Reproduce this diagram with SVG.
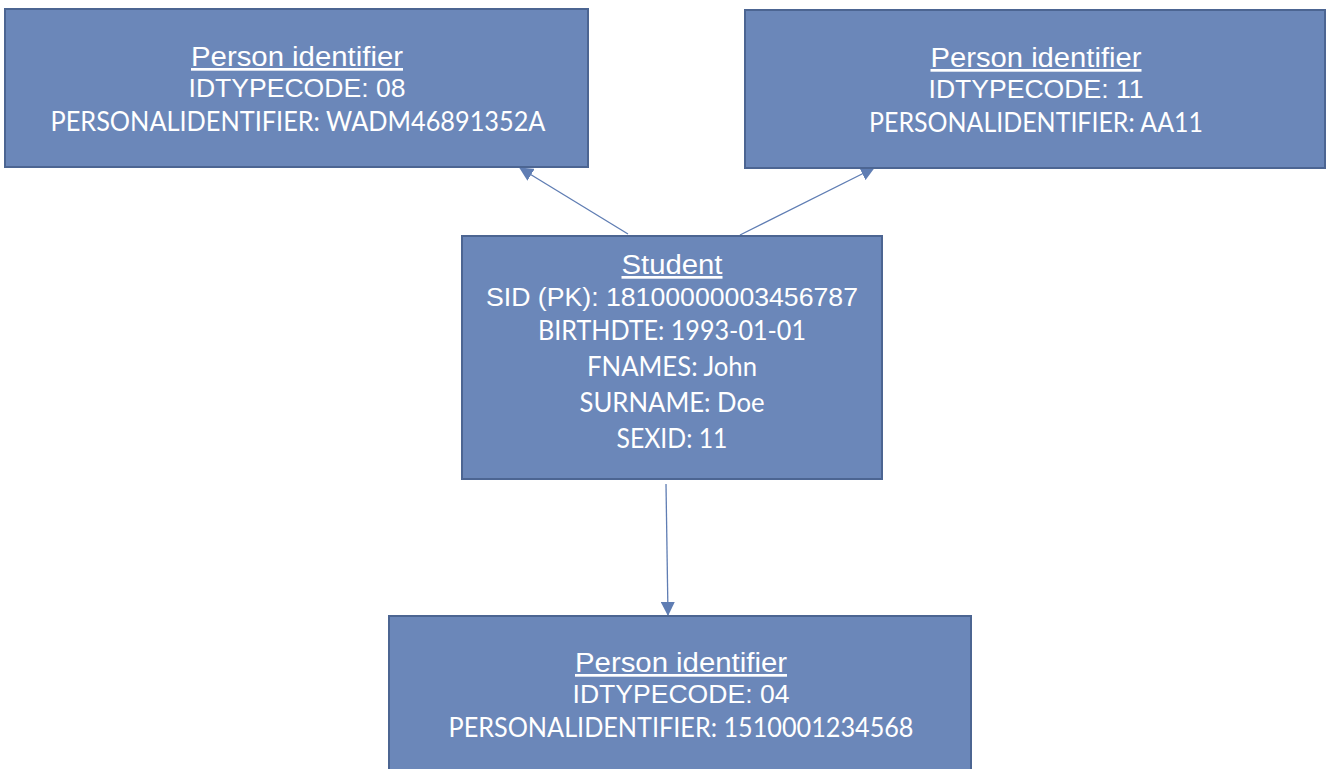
<svg xmlns="http://www.w3.org/2000/svg" width="1327" height="769" viewBox="0 0 1327 769">
<defs>
<style>
.box{fill:#6B87B9;stroke:#4C6592;stroke-width:2}
.t{fill:#ffffff;text-anchor:middle}
.h{font-family:"Liberation Sans",Arial,sans-serif;font-size:27px;text-decoration:underline}
.a{font-family:"Liberation Sans",Arial,sans-serif;font-size:25px}
.c{font-family:Lato,"Open Sans",sans-serif;font-size:26px}
.con{stroke:#5F7DB3;stroke-width:1.3;fill:none}
</style>
<marker id="arr" viewBox="0 0 14 14" refX="13" refY="7" markerWidth="14" markerHeight="14" markerUnits="userSpaceOnUse" orient="auto">
<path d="M0,0 L14,7 L0,14 z" fill="#5F7DB3"/>
</marker>
</defs>
<rect width="1327" height="769" fill="#ffffff"/>
<g id="connectors">
<line class="con" x1="628" y1="234" x2="520" y2="168" marker-end="url(#arr)"/>
<line class="con" x1="740" y1="235" x2="874" y2="168" marker-end="url(#arr)"/>
<line class="con" x1="666" y1="484" x2="668" y2="615" marker-end="url(#arr)"/>
</g>
<g id="pid08">
<rect class="box" x="5" y="9" width="583" height="158"/>
<text class="t h" x="297" y="66" textLength="212" lengthAdjust="spacingAndGlyphs">Person identifier</text>
<text class="t a" x="297" y="97" textLength="217" lengthAdjust="spacingAndGlyphs">IDTYPECODE: 08</text>
<text class="t c" x="298" y="131" textLength="495" lengthAdjust="spacingAndGlyphs">PERSONALIDENTIFIER: WADM46891352A</text>
</g>
<g id="pid11">
<rect class="box" x="745" y="10" width="580" height="158"/>
<text class="t h" x="1036" y="67" textLength="211" lengthAdjust="spacingAndGlyphs">Person identifier</text>
<text class="t a" x="1036" y="98" textLength="215" lengthAdjust="spacingAndGlyphs">IDTYPECODE: 11</text>
<text class="t c" x="1036" y="132" textLength="334" lengthAdjust="spacingAndGlyphs">PERSONALIDENTIFIER: AA11</text>
</g>
<g id="student">
<rect class="box" x="462" y="236" width="420" height="243"/>
<text class="t h" x="672" y="274" textLength="101" lengthAdjust="spacingAndGlyphs">Student</text>
<text class="t a" x="672" y="306" textLength="372" lengthAdjust="spacingAndGlyphs">SID (PK): 18100000003456787</text>
<text class="t c" x="672" y="340" textLength="268" lengthAdjust="spacingAndGlyphs">BIRTHDTE: 1993-01-01</text>
<text class="t c" x="672" y="376" textLength="170" lengthAdjust="spacingAndGlyphs">FNAMES: John</text>
<text class="t c" x="672" y="412" textLength="185" lengthAdjust="spacingAndGlyphs">SURNAME: Doe</text>
<text class="t c" x="672" y="448" textLength="111" lengthAdjust="spacingAndGlyphs">SEXID: 11</text>
</g>
<g id="pid04">
<rect class="box" x="389" y="616" width="582" height="160"/>
<text class="t h" x="681" y="672" textLength="212" lengthAdjust="spacingAndGlyphs">Person identifier</text>
<text class="t a" x="681" y="703" textLength="217" lengthAdjust="spacingAndGlyphs">IDTYPECODE: 04</text>
<text class="t c" x="681" y="737" textLength="465" lengthAdjust="spacingAndGlyphs">PERSONALIDENTIFIER: 1510001234568</text>
</g>
</svg>
